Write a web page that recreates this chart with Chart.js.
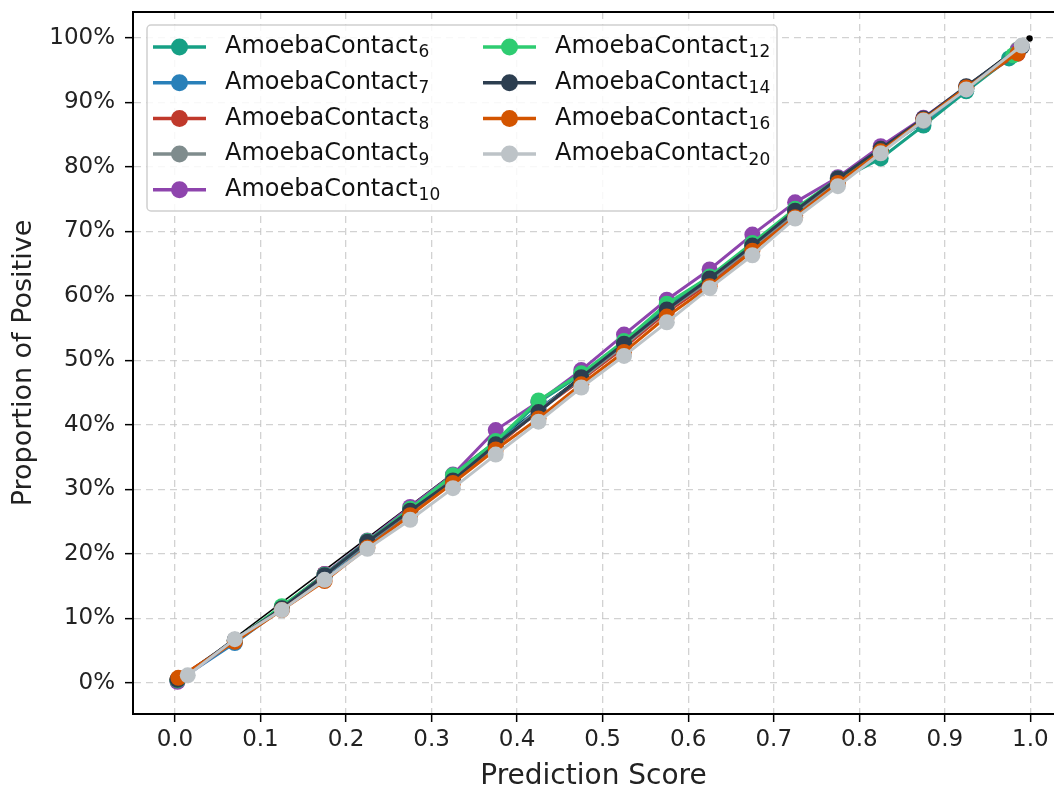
<!DOCTYPE html>
<html>
<head>
<meta charset="utf-8">
<script src="https://cdn.jsdelivr.net/npm/chart.js@4.4.0/dist/chart.umd.min.js"></script>
<style>
  html, body { margin: 0; padding: 0; background: #fff; overflow: hidden; }
  body { width: 1054px; height: 787px; }
  /* a little wider than the window so the cropped right edge lands at 1054 */
  .chart-container { position: relative; width: 1062px; height: 787px; }
</style>
</head>
<body>
<div class="chart-container">
  <canvas id="calibChart"></canvas>
</div>
<script>
// model window sizes (legend subscripts) and their colours
const modelSizes = [6, 7, 8, 9, 10, 12, 14, 16, 20];
const seriesColors = ["#16a085", "#2980b9", "#c0392b", "#7f8c8d", "#8e44ad",
                      "#2ecc71", "#2c3e50", "#d35400", "#bdc3c7"];

// bin centres shared by every model, plus each model's first/last bin score
const midScores = [0.07, 0.125, 0.175, 0.225, 0.275, 0.325, 0.375, 0.425, 0.475,
                   0.525, 0.575, 0.625, 0.675, 0.725, 0.775, 0.825, 0.875, 0.925];
const headScores = [0.003, 0.003, 0.003, 0.003, 0.003, 0.003, 0.003, 0.004, 0.015];
const tailScores = [0.975, 0.985, 0.985, 0.985, 0.985, 0.98, 0.99, 0.985, 0.99];

// proportion of positive (%) per model: first bin, mid bins, last bin
const posRate6  = [0.5, 6.5, 11.8, 16.8, 21.9, 26.8, 31.9, 37.2, 43.5, 47.8, 52.8, 58.5, 62.8, 67.8, 73.0, 77.8, 81.3, 86.4, 91.7, 96.8];
const posRate7  = [0.3, 6.2, 11.5, 16.5, 21.5, 26.5, 31.5, 36.8, 42.5, 47.0, 52.5, 58.0, 62.5, 67.5, 73.0, 78.0, 82.5, 87.0, 92.0, 97.8];
const posRate8  = [0.6, 6.6, 11.6, 16.9, 21.8, 26.6, 31.6, 36.6, 42.2, 47.0, 52.0, 57.5, 62.0, 67.5, 72.5, 78.0, 82.8, 87.3, 92.2, 97.5];
const posRate9  = [0.4, 6.5, 11.5, 16.6, 21.7, 26.6, 31.6, 36.8, 42.3, 47.2, 52.3, 57.8, 62.3, 67.6, 72.8, 78.0, 82.4, 87.1, 92.1, 98.2];
const posRate10 = [0.2, 6.6, 11.7, 16.9, 22.1, 27.3, 32.3, 39.2, 43.6, 48.5, 54.0, 59.4, 64.1, 69.5, 74.5, 78.4, 83.2, 87.6, 92.4, 98.0];
const posRate12 = [0.4, 6.6, 11.9, 16.8, 22.0, 27.0, 32.2, 37.5, 43.8, 48.0, 53.0, 58.8, 63.0, 68.2, 73.5, 78.2, 82.6, 87.2, 92.1, 97.3];
const posRate14 = [0.5, 6.7, 11.6, 16.7, 21.9, 26.7, 31.4, 37.0, 42.0, 47.4, 52.6, 57.9, 62.7, 67.8, 73.2, 78.2, 82.8, 87.5, 92.5, 98.6];
const posRate16 = [0.8, 6.4, 11.3, 15.8, 21.0, 26.0, 31.0, 36.2, 41.0, 46.3, 51.3, 56.8, 61.5, 67.0, 72.2, 77.5, 82.4, 87.3, 92.3, 97.6];
const posRate20 = [1.2, 6.8, 11.3, 16.0, 20.8, 25.3, 30.2, 35.4, 40.5, 45.8, 50.7, 55.9, 61.2, 66.3, 72.0, 77.0, 82.1, 87.2, 92.0, 98.8];
const posRates = [posRate6, posRate7, posRate8, posRate9, posRate10, posRate12, posRate14, posRate16, posRate20];

// perfectly calibrated reference
const refScores = [0, 0.999];
const refRates = [0, 99.9];

// axis ticks
const xTicks = [0, 0.1, 0.2, 0.3, 0.4, 0.5, 0.6, 0.7, 0.8, 0.9, 1.0];
const yTicks = [0, 10, 20, 30, 40, 50, 60, 70, 80, 90, 100];

const FONT = "DejaVu Sans";

const datasets = modelSizes.map((m, i) => {
  const xs = [headScores[i], ...midScores, tailScores[i]];
  return {
    label: "AmoebaContact" + m,
    data: xs.map((x, j) => ({ x: x, y: posRates[i][j] })),
    borderColor: seriesColors[i],
    backgroundColor: seriesColors[i],
    borderWidth: 3,
    pointRadius: 8,
    pointBorderWidth: 0,
    pointHoverRadius: 8,
    order: modelSizes.length - i,
  };
});
datasets.push({
  label: "reference",
  data: refScores.map((x, j) => ({ x: x, y: refRates[j] })),
  borderColor: "#000",
  backgroundColor: "#000",
  borderWidth: 1.5,
  pointRadius: 2.5,
  order: 20,
});

// matplotlib-like legend: framed box, two columns filled column-first
const legendBox = {
  id: "legendBox",
  afterDraw(chart) {
    const ctx = chart.ctx;
    const x0 = 147, y0 = 25, w = 630, h = 186;
    ctx.save();
    ctx.fillStyle = "rgba(255,255,255,0.85)";
    ctx.strokeStyle = "#d0d0d0";
    ctx.lineWidth = 1.5;
    ctx.beginPath();
    ctx.roundRect(x0, y0, w, h, 4);
    ctx.fill();
    ctx.stroke();

    const rowH = 35.7;
    const colX = [153, 483];
    modelSizes.forEach((m, i) => {
      const col = i < 5 ? 0 : 1;
      const row = i < 5 ? i : i - 5;
      const cy = 47 + row * rowH;
      const lx = colX[col];
      ctx.strokeStyle = seriesColors[i];
      ctx.fillStyle = seriesColors[i];
      ctx.lineWidth = 3.5;
      ctx.beginPath();
      ctx.moveTo(lx, cy);
      ctx.lineTo(lx + 53, cy);
      ctx.stroke();
      ctx.beginPath();
      ctx.arc(lx + 26.5, cy, 8.5, 0, Math.PI * 2);
      ctx.fill();

      ctx.fillStyle = "#111";
      ctx.textBaseline = "middle";
      ctx.font = "24px '" + FONT + "'";
      const tx = lx + 72;
      ctx.fillText("AmoebaContact", tx, cy);
      const tw = ctx.measureText("AmoebaContact").width;
      ctx.font = "17px '" + FONT + "'";
      ctx.fillText(String(m), tx + tw + 1, cy + 6);
    });
    ctx.restore();
  },
};

// top spine
const topSpine = {
  id: "topSpine",
  afterDatasetsDraw(chart) {
    const { ctx, chartArea } = chart;
    ctx.save();
    ctx.strokeStyle = "#000";
    ctx.lineWidth = 2;
    ctx.beginPath();
    ctx.moveTo(chartArea.left, chartArea.top);
    ctx.lineTo(chartArea.right, chartArea.top);
    ctx.stroke();
    ctx.restore();
  },
};

const gridStyle = {
  color: "rgba(195,195,195,0.75)",
  lineWidth: 1.3,
  tickColor: "#000",
  tickLength: 8,
  tickWidth: 1.5,
  tickBorderDash: [],
};

new Chart(document.getElementById("calibChart"), {
  type: "line",
  data: { datasets: datasets },
  options: {
    responsive: true,
    maintainAspectRatio: false,
    animation: false,
    layout: { padding: { top: 12, right: 0, left: 0, bottom: 0 } },
    plugins: {
      legend: { display: false },
      tooltip: { enabled: false },
    },
    scales: {
      x: {
        type: "linear",
        min: -0.049,
        max: 1.0276,
        afterBuildTicks: (scale) => { scale.ticks = xTicks.map((v) => ({ value: v })); },
        afterFit: (scale) => {
          scale.height = 73;
          scale.paddingLeft = 0;
          scale.paddingRight = 0;
        },
        ticks: {
          callback: (v) => v.toFixed(1),
          color: "#222",
          font: { family: FONT, size: 23 },
          padding: 4,
          maxRotation: 0,
        },
        grid: { ...gridStyle },
        border: { display: true, color: "#000", width: 2, dash: [7, 5] },
        title: {
          display: true,
          text: "Prediction Score",
          color: "#222",
          font: { family: FONT, size: 28, lineHeight: 0.7 },
          padding: { top: 0, bottom: 0 },
        },
      },
      y: {
        type: "linear",
        min: -4.8,
        max: 104,
        afterBuildTicks: (scale) => { scale.ticks = yTicks.map((v) => ({ value: v })); },
        afterFit: (scale) => {
          scale.width = 133;
          scale.paddingTop = 0;
          scale.paddingBottom = 0;
        },
        ticks: {
          callback: (v) => Math.round(v) + "%",
          color: "#222",
          font: { family: FONT, size: 23 },
          padding: 10,
        },
        grid: { ...gridStyle },
        border: { display: true, color: "#000", width: 2, dash: [7, 5] },
        title: {
          display: true,
          text: "Proportion of Positive",
          color: "#222",
          font: { family: FONT, size: 27, lineHeight: 1.2 },
          padding: { top: 8, bottom: 0 },
        },
      },
    },
  },
  plugins: [legendBox, topSpine],
});
</script>
</body>
</html>
